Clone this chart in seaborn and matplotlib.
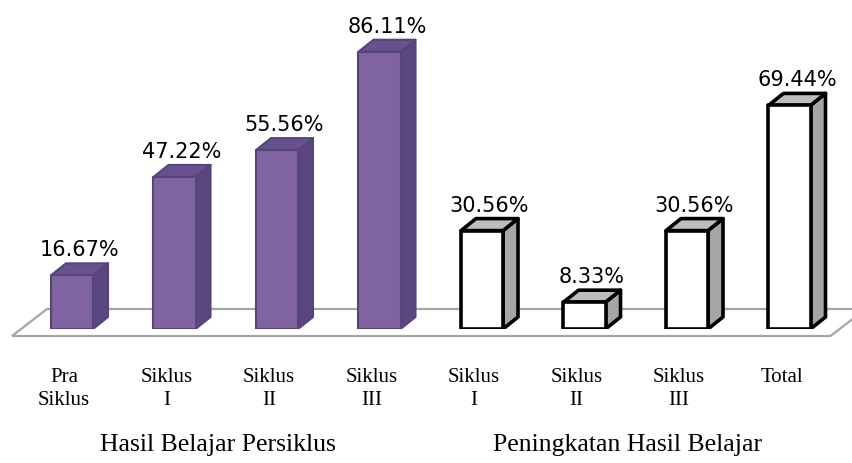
import numpy as np
import pandas as pd
import seaborn as sns
import matplotlib.pyplot as plt
from matplotlib.patches import Polygon
from matplotlib.transforms import ScaledTranslation, blended_transform_factory

sns.set_theme(style="white")
plt.rcParams['font.family'] = ['DejaVu Sans']
plt.rcParams['text.color'] = 'black'
plt.rcParams['xtick.color'] = 'black'

# data
kategori = ["Pra\nSiklus", "Siklus\nI", "Siklus\nII", "Siklus\nIII",
            "Siklus\nI", "Siklus\nII", "Siklus\nIII", "Total"]
nilai = [16.67, 47.22, 55.56, 86.11, 30.56, 8.33, 30.56, 69.44]
kelompok = ["Hasil Belajar Persiklus"] * 4 + ["Peningkatan Hasil Belajar"] * 4
judul_kelompok = ["Hasil Belajar Persiklus", "Peningkatan Hasil Belajar"]

# gaya per kelompok: depan, samping, atas, tepi, tebal garis
gaya = {
    "Hasil Belajar Persiklus": dict(depan="#8064A2", samping="#5A477E", atas="#67528F",
                                    tepi="#56447C", lw=1.5),
    "Peningkatan Hasil Belajar": dict(depan="#FFFFFF", samping="#A6A6A6", atas="#BDBDBD",
                                      tepi="#000000", lw=2.6),
}

df = pd.DataFrame({"kunci": [str(i) for i in range(len(nilai))],
                   "nilai": nilai, "kelompok": kelompok})

fig = plt.figure(figsize=(8.52, 4.64), dpi=100)
ax = fig.add_axes([0, 134 / 464, 1, 322 / 464])

sns.barplot(data=df, x="kunci", y="nilai", hue="kelompok",
            palette={k: v["depan"] for k, v in gaya.items()}, saturation=1,
            dodge=False, width=0.41, errorbar=None, legend=False, ax=ax, zorder=3)

ax.set_xlim(-72 / 102.5, (852 - 72) / 102.5)
ax.set_ylim(0, 100)

# kedalaman 3D dalam satuan data
px_x = 852 / (ax.get_xlim()[1] - ax.get_xlim()[0])
px_y = 322 / 100
ddx, ddy = 15 / px_x, 12 / px_y

# lantai
fy0, fy1 = -7 / px_y, 20 / px_y
fx0, fx1 = (12 - 72) / px_x, len(nilai) - 1 + (830 - 789) / px_x
fdx = 35 / px_x
ax.add_patch(Polygon([(fx0, fy0), (fx1, fy0), (fx1 + fdx, fy1), (fx0 + fdx, fy1)],
                     closed=True, facecolor="white", edgecolor="#A6A6A6",
                     linewidth=1.6, zorder=1, clip_on=False))

label_off = ax.transData + ScaledTranslation(0, 4 / 100, fig.dpi_scale_trans)
for p in ax.patches:
    if not hasattr(p, "get_width") or p.get_height() <= 0:
        continue
    xc = p.get_x() + p.get_width() / 2
    i = int(round(xc))
    g = gaya[kelompok[i]]
    x0, x1, h = p.get_x(), p.get_x() + p.get_width(), p.get_height()
    p.set_edgecolor(g["tepi"])
    p.set_linewidth(g["lw"])
    p.set_joinstyle("round")
    p.set_zorder(4)
    ax.add_patch(Polygon([(x1, 0), (x1 + ddx, ddy), (x1 + ddx, h + ddy), (x1, h)],
                         closed=True, facecolor=g["samping"], edgecolor=g["tepi"],
                         linewidth=g["lw"], joinstyle="round", zorder=3))
    ax.add_patch(Polygon([(x0, h), (x0 + ddx, h + ddy), (x1 + ddx, h + ddy), (x1, h)],
                         closed=True, facecolor=g["atas"], edgecolor=g["tepi"],
                         linewidth=g["lw"], joinstyle="round", zorder=3))
    ax.text(xc + ddx / 2, h + ddy, f"{nilai[i]:.2f}%", ha="center", va="bottom",
            fontsize=15, color="black", transform=label_off)

ax.set_xticks(range(len(kategori)))
ax.set_xticklabels(kategori, fontfamily="Liberation Serif", fontsize=15, linespacing=1.3)
ax.tick_params(axis="x", length=0, pad=27)
geser = ScaledTranslation(-8 / 100, 0, fig.dpi_scale_trans)
for lbl in ax.get_xticklabels():
    lbl.set_transform(lbl.get_transform() + geser)

ax.set_yticks([])
ax.set_xlabel("")
ax.set_ylabel("")
sns.despine(ax=ax, left=True, bottom=True)

trans = blended_transform_factory(ax.transData, fig.transFigure) + geser
for j, judul in enumerate(judul_kelompok):
    pos = [i for i, k in enumerate(kelompok) if k == judul]
    ax.text(np.mean(pos), 19 / 464, judul, ha="center", va="center",
            fontfamily="Liberation Serif", fontsize=18.5, transform=trans, clip_on=False)

fig.savefig("out.png", dpi=100, facecolor="white")
